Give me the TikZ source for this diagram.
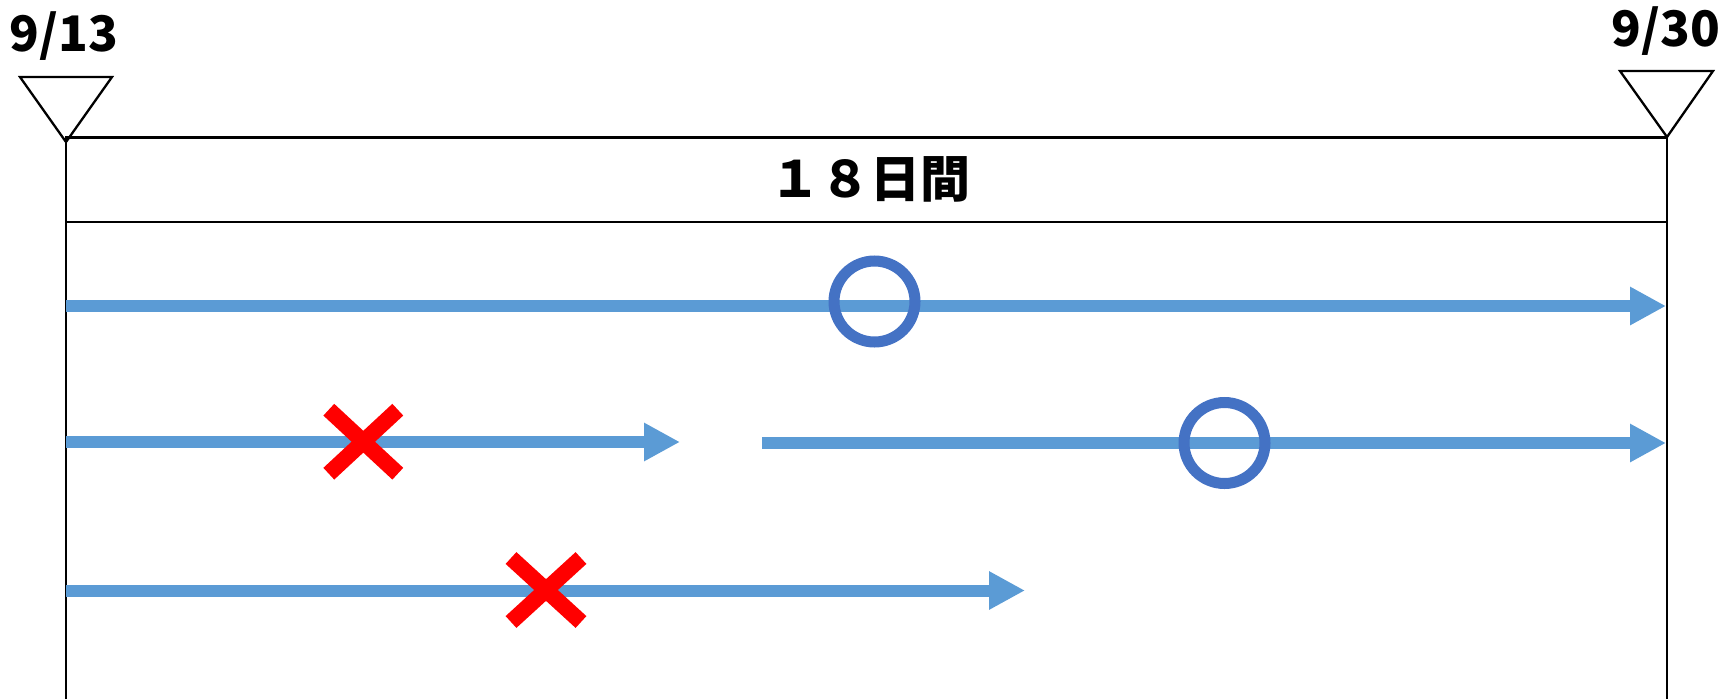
\documentclass[tikz,border=0pt]{standalone}
\usepackage{fontspec}
\setmainfont{Noto Sans CJK JP}
\usetikzlibrary{arrows.meta}
\definecolor{barblue}{HTML}{5B9BD5}
\definecolor{okblue}{HTML}{4472C4}
\tikzset{
  frame/.style={line width=2.3pt, black},
  bar/.style={barblue, line width=12pt, -{Triangle[length=36pt,width=36pt]}},
  okmark/.style={okblue, line width=11pt},
  ngmark/.style={red, line width=16pt},
  datelabel/.style={inner sep=0pt, font=\bfseries\fontsize{49}{49}\selectfont},
}
\begin{document}
\begin{tikzpicture}[x=1pt,y=-1pt]
  \useasboundingbox (0,0) rectangle (1723,699);

  % dates and markers
  \node[datelabel] (start) at (64,36) {9/13};
  \node[datelabel] (end) at (1666,31) {9/30};
  \draw[frame] (20,77) -- (112,77) -- (66,142) -- cycle;
  \draw[frame] (1620,71) -- (1713,71) -- (1667,137) -- cycle;

  % frame
  \draw[frame] (66,699) -- (66,137.5) -- (1667,137.5) -- (1667,699);
  \draw[frame] (66,222) -- (1667,222);
  \node[inner sep=0pt, font=\bfseries\fontsize{50}{50}\selectfont] (span) at (870,179) {１８日間};

  % timelines
  \coordinate (a1) at (66,306);   \coordinate (b1) at (1666,306);
  \coordinate (a2) at (66,442);   \coordinate (b2) at (680,442);
  \coordinate (a3) at (762,443);  \coordinate (b3) at (1666,443);
  \coordinate (a4) at (66,590.5); \coordinate (b4) at (1025,590.5);
  \draw[bar] (a1) -- (b1);
  \draw[bar] (a2) -- (b2);
  \draw[bar] (a3) -- (b3);
  \draw[bar] (a4) -- (b4);

  % results
  \draw[okmark] (874.5,301.5) circle (40.5pt);
  \draw[okmark] (1224.5,443) circle (40.5pt);
  \draw[ngmark] (328.8,409.7) -- (397.8,473.7);
  \draw[ngmark] (397.8,409.7) -- (328.8,473.7);
  \draw[ngmark] (511,558) -- (581,622);
  \draw[ngmark] (581,558) -- (511,622);
\end{tikzpicture}
\end{document}
